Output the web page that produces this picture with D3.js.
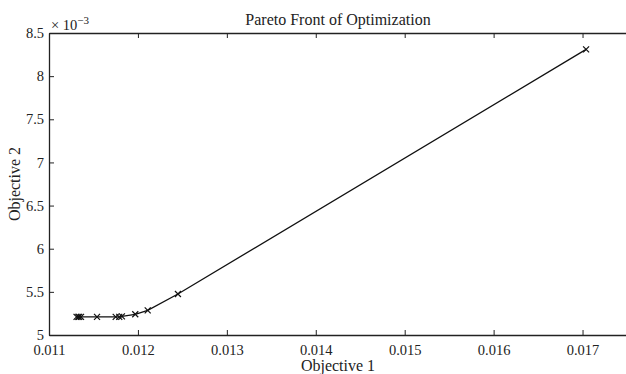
<!DOCTYPE html>
<html>
<head>
<meta charset="utf-8">
<script src="https://cdn.jsdelivr.net/npm/d3@7"></script>
<style>
    body { margin: 0; background: #fff; }
    text { font-family: "Liberation Serif", "Times New Roman", serif; fill: #222; }
</style>
</head>
<body>
<div id="chart"></div>
<script>
// data (objective 2 in units of 1e-3)
const obj1 = [0.01131, 0.01133, 0.01134, 0.01136, 0.01154, 0.01175, 0.01179, 0.01182, 0.01197, 0.01211, 0.01245, 0.01704];
const obj2 = [5.21, 5.21, 5.21, 5.21, 5.21, 5.21, 5.21, 5.215, 5.24, 5.285, 5.475, 8.31];
const xTicks = [0.011, 0.012, 0.013, 0.014, 0.015, 0.016, 0.017];
const yTicks = [5, 5.5, 6, 6.5, 7, 7.5, 8, 8.5];

const width = 626, height = 374;
const margin = { top: 33, right: -1, bottom: 39, left: 49 };
const w = width - margin.left - margin.right;
const h = height - margin.top - margin.bottom;

const svg = d3.select("#chart").append("svg")
    .attr("width", width).attr("height", height);

const g = svg.append("g").attr("transform", "translate(" + margin.left + "," + margin.top + ")");

const x = d3.scaleLinear().domain([0.011, 0.0175]).range([0, w]);
const y = d3.scaleLinear().domain([5, 8.5]).range([h, 0]);

// axes with inward ticks (matlab style)
const xAxis = d3.axisBottom(x).tickValues(xTicks).tickFormat(d3.format(".3f")).tickSizeInner(-5).tickSizeOuter(0).tickPadding(10);
const yAxis = d3.axisLeft(y).tickValues(yTicks).tickFormat(d => d).tickSizeInner(-5).tickSizeOuter(0).tickPadding(5);
const xTop = d3.axisTop(x).tickValues(xTicks).tickFormat("").tickSizeInner(-5).tickSizeOuter(0);

function styleAxis(sel) {
    sel.select(".domain").attr("stroke", "#222").attr("stroke-width", 1.3);
    sel.selectAll(".tick line").attr("stroke", "#222").attr("stroke-width", 1);
    sel.selectAll(".tick text").style("font-size", "14.5px").attr("fill", "#222");
}

g.append("g").attr("transform", "translate(0," + h + ")").call(xAxis).call(styleAxis);
g.append("g").call(yAxis).call(styleAxis);
g.append("g").call(xTop).call(styleAxis);

// the line
const line = d3.line().x((d, i) => x(obj1[i])).y(d => y(d));
g.append("path").datum(obj2)
    .attr("d", line)
    .attr("fill", "none")
    .attr("stroke", "#111")
    .attr("stroke-width", 1.3);

// x markers
const s = 3;
g.selectAll(".mk").data(obj2).enter().append("path")
    .attr("class", "mk")
    .attr("d", (d, i) => {
        const cx = x(obj1[i]), cy = y(d);
        return "M" + (cx - s) + "," + (cy - s) + "L" + (cx + s) + "," + (cy + s) +
            "M" + (cx - s) + "," + (cy + s) + "L" + (cx + s) + "," + (cy - s);
    })
    .attr("stroke", "#111")
    .attr("stroke-width", 1.2);

// exponent label
const ex = svg.append("text").attr("x", 51).attr("y", 30).style("font-size", "14.5px");
ex.append("tspan").text("\u00d7 10");
ex.append("tspan").attr("dy", -6).style("font-size", "11px").text("\u22123");

// title and axis labels
const cx = margin.left + w / 2;
svg.append("text").attr("x", cx).attr("y", 25).attr("text-anchor", "middle")
    .style("font-size", "16px").text("Pareto Front of Optimization");
svg.append("text").attr("x", cx).attr("y", 371).attr("text-anchor", "middle")
    .style("font-size", "16px").text("Objective 1");
svg.append("text").attr("transform", "translate(20," + (margin.top + h / 2) + ") rotate(-90)")
    .attr("text-anchor", "middle").style("font-size", "16px").text("Objective 2");
</script>
</body>
</html>
